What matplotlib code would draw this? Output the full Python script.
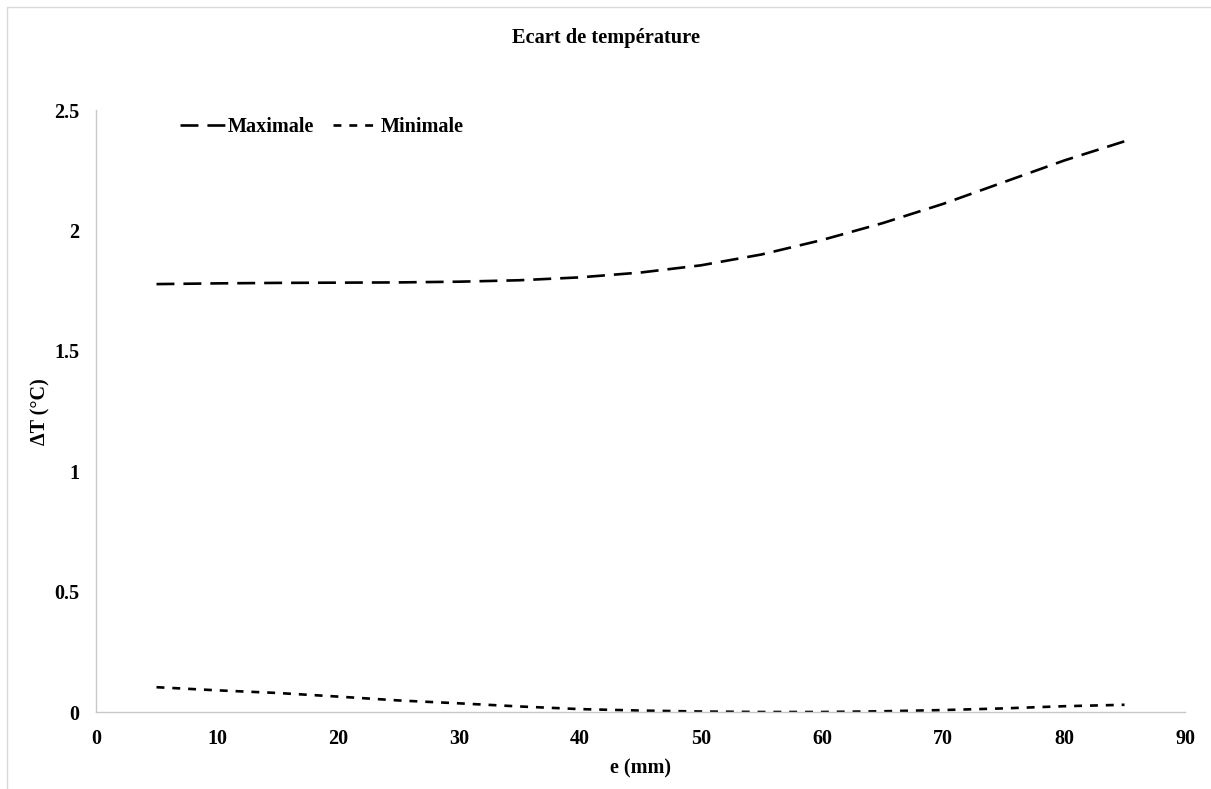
import matplotlib
matplotlib.use("Agg")
import matplotlib.pyplot as plt
from matplotlib.patches import Rectangle

plt.rcParams['font.family'] = ['Liberation Serif', 'DejaVu Serif']
plt.rcParams['font.weight'] = 'bold'

e_mm = [5, 10, 15, 20, 25, 30, 35, 40, 45, 50, 55, 60, 65, 70, 75, 80, 85]
maximale = [1.777, 1.780, 1.782, 1.783, 1.784, 1.787, 1.793, 1.805, 1.825, 1.855,
            1.900, 1.960, 2.030, 2.110, 2.200, 2.290, 2.370]
minimale = [0.103, 0.090, 0.079, 0.064, 0.048, 0.036, 0.023, 0.012, 0.006, 0.002,
            0.000, 0.000, 0.003, 0.008, 0.015, 0.024, 0.030]
x_ticks = [0, 10, 20, 30, 40, 50, 60, 70, 80, 90]
y_ticks = [0, 0.5, 1, 1.5, 2, 2.5]
y_tick_labels = ['0', '0.5', '1', '1.5', '2', '2.5']

FS = 14.5
W, H = 1211, 789
fig = plt.figure(figsize=(W / 100, H / 100), dpi=100)
ax = fig.add_axes([96 / W, 1 - 712 / H, (1185 - 96) / W, (712 - 110) / H])

ax.plot(e_mm, maximale, color='black', lw=1.9, dashes=(6.8, 3.4), label='Maximale')
ax.plot(e_mm, minimale, color='black', lw=1.9, dashes=(3.0, 3.0), label='Minimale')

ax.set_xlim(0, 90)
ax.set_ylim(0, 2.5)
ax.set_xticks(x_ticks)
ax.set_xticklabels([str(v) for v in x_ticks])
ax.set_yticks(y_ticks)
ax.set_yticklabels(y_tick_labels)
ax.tick_params(axis='both', length=0, labelsize=FS)
ax.tick_params(axis='x', pad=12)
ax.tick_params(axis='y', pad=12)
for lab in ax.get_xticklabels() + ax.get_yticklabels():
    lab.set_fontweight('bold')

for s in ['top', 'right']:
    ax.spines[s].set_visible(False)
for s in ['left', 'bottom']:
    ax.spines[s].set_color('#c8c8c8')
    ax.spines[s].set_linewidth(1.0)

fig.text(40 / W, 1 - 412 / H, 'ΔT (°C)', rotation=90, ha='center', va='center',
         fontsize=FS, fontweight='bold')
fig.text(640 / W, 1 - 768 / H, 'e (mm)', ha='center', va='center',
         fontsize=FS, fontweight='bold')
fig.text(606 / W, 1 - 38 / H, 'Ecart de température', ha='center', va='center',
         fontsize=14.7, fontweight='bold')

leg = ax.legend(loc='upper left', bbox_to_anchor=(76 / 1089, 1.0 + 1 / 602), ncol=2,
                frameon=False, fontsize=FS, handlelength=2.3, handletextpad=0.05,
                columnspacing=0.95, borderaxespad=0)
for t in leg.get_texts():
    t.set_fontweight('bold')

fig.patches.append(Rectangle((7 / W, -0.05), 1.2, 1 - 7 / H + 0.05,
                             transform=fig.transFigure, fill=False,
                             edgecolor='#d9d9d9', lw=1.0, clip_on=False))

fig.savefig('out.png', dpi=100)
